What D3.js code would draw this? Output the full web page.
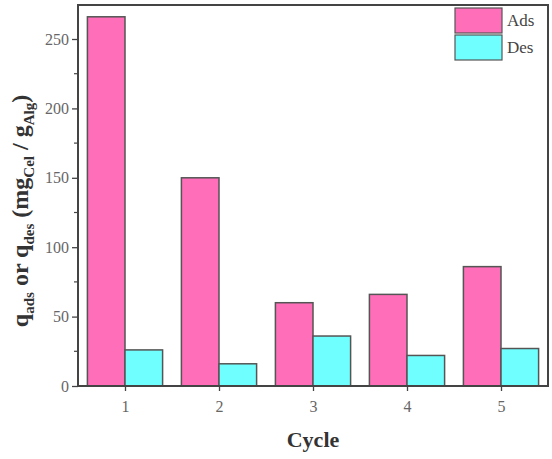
<!DOCTYPE html>
<html>
<head>
<meta charset="utf-8">
<script src="https://cdn.jsdelivr.net/npm/d3@7"></script>
<style>
  body { margin: 0; background: #fff; }
  svg { display: block; font-family: "Liberation Serif", "Times New Roman", serif; }
  svg text { font-family: "Liberation Serif", "Times New Roman", serif; }
</style>
</head>
<body>
<div id="chart"></div>
<script>
// data
var cycles = [1, 2, 3, 4, 5]
var adsValues = [266, 150, 60, 66, 86]
var desValues = [26, 16, 36, 22, 27]
var seriesNames = ["Ads", "Des"]
var seriesColors = ["#ff6eb8", "#70ffff"]
var yTicks = [0, 50, 100, 150, 200, 250]

var width = 552,
    height = 459,
    margin = {top: 5, right: 4, bottom: 73, left: 78}

var svg = d3.select("#chart")
  .append("svg")
    .attr("width", width)
    .attr("height", height)

var x = d3.scaleLinear()
  .domain([0.5, 5.5])
  .range([margin.left, width - margin.right])

var y = d3.scaleLinear()
  .domain([0, 274.5])
  .range([height - margin.bottom, margin.top])

var barW = 0.4
var series = [adsValues, desValues]

// bars
series.forEach(function(vals, s) {
  svg.selectAll(".bar" + s)
    .data(vals)
    .enter()
    .append("rect")
      .attr("x", function(d, i) { return x(cycles[i] + (s - 1) * barW) })
      .attr("width", x(barW) - x(0))
      .attr("y", function(d) { return y(d) })
      .attr("height", function(d) { return y(0) - y(d) })
      .attr("fill", seriesColors[s])
      .attr("stroke", "#555")
      .attr("stroke-width", 1.5)
})

// frame
svg.append("rect")
  .attr("x", margin.left)
  .attr("y", margin.top)
  .attr("width", width - margin.left - margin.right)
  .attr("height", height - margin.top - margin.bottom)
  .attr("fill", "none")
  .attr("stroke", "#444")
  .attr("stroke-width", 2)

// y axis
var yAxis = svg.append("g")
  .attr("transform", "translate(" + margin.left + ",0)")
  .call(d3.axisLeft(y).tickValues(yTicks).tickSize(6).tickPadding(3))
yAxis.attr("font-family", null)
yAxis.select(".domain").remove()
yAxis.selectAll("line").attr("stroke", "#444").attr("stroke-width", 1.3)
yAxis.selectAll("text")
  .attr("fill", "#666")
  .style("font-size", "16px")

// minor y ticks
svg.append("g")
  .selectAll("line")
  .data([25, 75, 125, 175, 225])
  .enter()
  .append("line")
    .attr("x1", margin.left - 4)
    .attr("x2", margin.left)
    .attr("y1", function(d) { return y(d) })
    .attr("y2", function(d) { return y(d) })
    .attr("stroke", "#444")
    .attr("stroke-width", 1.2)

// x axis
var xAxis = svg.append("g")
  .attr("transform", "translate(0," + (height - margin.bottom) + ")")
  .call(d3.axisBottom(x).tickValues(cycles).tickFormat(d3.format("d")).tickSize(5).tickPadding(10))
xAxis.attr("font-family", null)
xAxis.select(".domain").remove()
xAxis.selectAll("line").attr("stroke", "#444").attr("stroke-width", 1.3)
xAxis.selectAll("text")
  .attr("fill", "#666")
  .style("font-size", "16px")

// axis titles
svg.append("text")
  .attr("x", (margin.left + width - margin.right) / 2)
  .attr("y", 447)
  .attr("text-anchor", "middle")
  .style("font-size", "22px")
  .style("font-weight", "bold")
  .attr("fill", "#333")
  .text("Cycle")

var yt = svg.append("text")
  .attr("transform", "translate(28," + 211 + ") rotate(-90)")
  .attr("text-anchor", "middle")
  .style("font-size", "24px")
  .style("font-weight", "bold")
  .attr("fill", "#333")
yt.append("tspan").text("q")
yt.append("tspan").attr("dy", 6).style("font-size", "15px").text("ads")
yt.append("tspan").attr("dy", -6).text(" or q")
yt.append("tspan").attr("dy", 6).style("font-size", "15px").text("des")
yt.append("tspan").attr("dy", -6).text(" (mg")
yt.append("tspan").attr("dy", 6).style("font-size", "15px").text("Cel")
yt.append("tspan").attr("dy", -6).text(" / g")
yt.append("tspan").attr("dy", 6).style("font-size", "15px").text("Alg")
yt.append("tspan").attr("dy", -6).text(")")

// legend
var legend = svg.append("g")
legend.selectAll("rect")
  .data(seriesNames)
  .enter()
  .append("rect")
    .attr("x", 455)
    .attr("y", function(d, i) { return 8 + i * 27 })
    .attr("width", 47)
    .attr("height", 25)
    .attr("fill", function(d, i) { return seriesColors[i] })
    .attr("stroke", "#555")
    .attr("stroke-width", 1.2)
legend.selectAll("text")
  .data(seriesNames)
  .enter()
  .append("text")
    .attr("x", 507)
    .attr("y", function(d, i) { return 26 + i * 27 })
    .style("font-size", "17px")
    .attr("fill", "#444")
    .text(function(d) { return d })
</script>
</body>
</html>
